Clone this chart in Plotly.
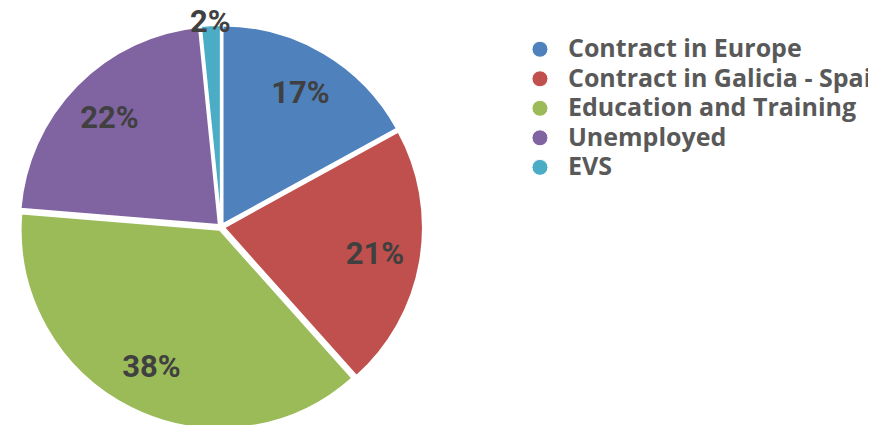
import math
import plotly.graph_objects as go

categories = ["Contract in Europe", "Contract in Galicia - Spain", "Education and Training", "Unemployed", "EVS"]
values = [17.0, 21.4, 37.9, 22.1, 1.6]
colors = ["#4F81BD", "#C0504D", "#9BBB59", "#8064A2", "#4BACC6"]

W, H = 876, 425
PULL = 0.015
dom_x = [11 / W, 415 / W]
dom_y = [4 / H, 408 / H]

total = sum(values)
inside_tpl = ["%{percent:.0%}" if v / total >= 0.05 else "" for v in values]

fig = go.Figure()
# slices
fig.add_trace(go.Pie(
    labels=categories, values=values, sort=False, direction="clockwise", rotation=0,
    marker=dict(colors=colors, line=dict(color="white", width=2)),
    pull=[PULL] * len(values), textinfo="none", showlegend=False,
    hoverinfo="label+percent", domain=dict(x=dom_x, y=dom_y),
))
# percentage labels (transparent ring so labels sit near the outer part of each slice)
fig.add_trace(go.Pie(
    labels=categories, values=values, sort=False, direction="clockwise", rotation=0,
    hole=0.54, marker=dict(colors=["rgba(0,0,0,0)"] * len(values), line=dict(width=0)),
    pull=[PULL] * len(values), texttemplate=inside_tpl, textposition="inside",
    insidetextorientation="horizontal",
    textfont=dict(family="Roboto", size=31, color="#404040", weight="bold"),
    showlegend=False, hoverinfo="skip", domain=dict(x=dom_x, y=dom_y),
))

# small-slice label just outside the rim, along the slice's mid-angle
r_px = min((dom_x[1] - dom_x[0]) * W, (dom_y[1] - dom_y[0]) * H) / (2 * (1 + PULL))
cx, cy = sum(dom_x) / 2, sum(dom_y) / 2
cum = 0.0
for v in values:
    mid = 2 * math.pi * (cum + v / 2) / total
    cum += v
    if v / total < 0.05:
        k = 1.035
        fig.add_annotation(
            x=cx + k * r_px * math.sin(mid) / W, y=cy + k * r_px * math.cos(mid) / H,
            xref="paper", yref="paper", xanchor="center", yanchor="middle",
            text=f"{round(100 * v / total)}%", showarrow=False,
            font=dict(family="Roboto", size=31, color="#404040", weight="bold"),
        )

for c, col in zip(categories, colors):
    fig.add_trace(go.Scatter(
        x=[None], y=[None], mode="markers",
        name=f"<span style='font-size:25px'>{c}</span>",
        marker=dict(symbol="circle", size=16, color=col, line=dict(color="white", width=1)),
        showlegend=True, hoverinfo="skip",
    ))

fig.update_layout(
    width=W, height=H,
    margin=dict(l=0, r=0, t=0, b=0, autoexpand=False),
    paper_bgcolor="white", plot_bgcolor="white",
    xaxis=dict(visible=False), yaxis=dict(visible=False),
    legend=dict(x=0.5753, y=0.9494, xanchor="left", yanchor="top",
                font=dict(family="Open Sans", size=20.4, color="#595959", weight="bold"),
                itemwidth=46, tracegroupgap=0, bgcolor="rgba(0,0,0,0)"),
)
fig.write_html("out.html")
